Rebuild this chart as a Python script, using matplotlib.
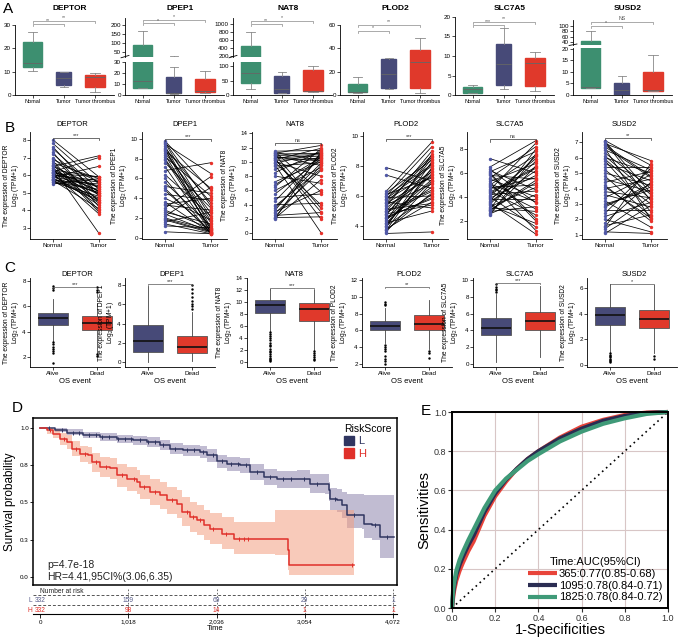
import numpy as np
import matplotlib
matplotlib.use("Agg")
import matplotlib.pyplot as plt
from matplotlib.patches import Patch
from matplotlib.transforms import blended_transform_factory

plt.rcParams["font.family"] = ["Liberation Sans", "DejaVu Sans"]
plt.rcParams["mathtext.default"] = "regular"

# ---------------- données ----------------
genes = ["DEPTOR", "DPEP1", "NAT8", "PLOD2", "SLC7A5", "SUSD2"]

# A : (min, q1, mediane, q3, max) par groupe
A_normal = [(10.4, 12.1, 13.9, 22.6, 26.9), (6, 6, 12.7, 88, 165), (22, 42, 75, 450, 800),
            (2, 2.3, 2.3, 9.1, 15.7), (0.6, 0.6, 1.5, 2.0, 2.6), (2.9, 2.9, 3.4, 42, 83)]
A_tumor = [(3.6, 4.3, 7.1, 9.7, 10), (0.6, 1.5, 2, 16, 25.7), (6, 8, 22, 66, 80),
           (4.9, 5.7, 18, 30.6, 31.4), (1.5, 2.6, 7.9, 13.2, 17.1), (0, 0, 2.2, 5.4, 8.3)]
A_thromb = [(1.3, 3.3, 7.6, 8.6, 9.3), (2, 2.7, 4, 15, 22), (11, 13, 15, 87, 100),
            (1.4, 6.3, 28.6, 39, 48.6), (1.1, 2.4, 8.1, 9.4, 10.9), (1.9, 1.9, 2.2, 9.8, 17.5)]
A_groups = ["Nomal", "Tumor", "Tumor thrombus"]
A_sig_nt = ["**", "*", "**", "*", "***", "*"]
A_sig_nth = ["**", "*", "*", "**", "**", "NS"]
A_lower_top = [30, 30, 114, 60, 20, 20.4]
A_lower_ticks = [[0, 10, 20, 30], [0, 10, 20, 30], [0, 50, 100], [0, 20, 40, 60],
                 [0, 5, 10, 15, 20], [0, 5, 10, 15, 20]]
A_upper_lim = [None, (20, 240), (173, 1160), None, None, (28.75, 122.5)]
A_upper_ticks = [None, [50, 100, 150, 200], [200, 400, 600, 800, 1000], None, None, [40, 60, 80, 100]]

# B : valeurs appariées normal / tumeur
B_normal = [
    [8.0, 7.8, 7.6, 7.5, 7.3, 7.2, 7.0, 6.9, 6.8, 6.7, 6.6, 6.5, 6.5, 6.4, 6.3, 6.3, 6.2, 6.2, 6.1, 6.1,
     6.0, 6.0, 5.9, 5.9, 5.8, 5.8, 5.7, 5.7, 5.6, 5.6, 5.5, 6.4, 6.0, 5.8, 6.2, 6.6, 5.9, 6.1, 5.7, 6.3],
    [9.8, 9.6, 9.5, 9.3, 9.1, 9.0, 8.8, 8.6, 8.4, 8.2, 8.0, 7.6, 7.2, 6.8, 6.4, 6.0, 5.6, 5.2, 4.8, 4.4,
     4.0, 3.6, 3.3, 3.0, 2.8, 2.6, 2.4, 2.2, 2.0, 1.8, 1.6, 1.4, 1.2, 0.6, 9.7, 8.9, 7.9, 5.0, 3.4, 1.9],
    [11.5, 11.3, 11.2, 11.0, 10.9, 10.8, 10.6, 10.5, 10.3, 10.2, 10.0, 9.8, 9.6, 9.4, 9.0, 8.5, 8.0, 7.2, 6.5, 6.0,
     5.5, 5.0, 4.5, 4.0, 3.5, 3.2, 3.0, 2.8, 2.5, 2.3, 2.1, 2.0, 11.4, 10.7, 9.9, 2.2, 3.8, 6.8, 10.4, 11.1],
    [7.9, 7.4, 6.3, 6.2, 6.1, 6.0, 5.9, 5.8, 5.7, 5.6, 5.5, 5.4, 5.3, 5.2, 5.1, 5.0, 4.9, 4.8, 4.7, 4.6,
     4.5, 4.4, 4.3, 4.2, 4.1, 4.0, 3.9, 3.8, 3.7, 3.6, 3.5, 6.0, 5.5, 5.0, 4.5, 4.0, 3.7, 5.8, 4.8, 4.2],
    [7.2, 6.5, 6.3, 6.1, 6.0, 5.8, 5.6, 5.5, 5.3, 5.2, 5.0, 4.9, 4.8, 4.6, 4.5, 4.4, 4.2, 4.1, 4.0, 3.9,
     3.8, 3.6, 3.5, 3.4, 3.2, 3.1, 3.0, 2.9, 2.8, 2.7, 2.6, 2.5, 5.9, 4.7, 3.7, 5.1, 4.3, 3.3, 6.2, 2.9],
    [7.1, 7.0, 6.9, 6.8, 6.6, 6.5, 6.3, 6.1, 6.0, 5.8, 5.6, 5.4, 5.2, 5.0, 4.8, 4.6, 4.4, 4.2, 4.0, 3.8,
     3.6, 3.4, 3.2, 3.0, 2.8, 2.6, 2.4, 2.2, 2.0, 1.8, 1.6, 1.4, 1.2, 1.1, 6.7, 5.9, 4.1, 2.9, 1.5, 7.05],
]
B_tumor = [
    [5.9, 5.5, 4.8, 5.2, 4.2, 5.0, 4.5, 5.6, 4.0, 5.8, 3.9, 5.3, 7.1, 4.6, 5.9, 4.4, 5.1, 7.0, 4.9, 3.8,
     5.7, 4.3, 5.4, 6.5, 4.7, 5.0, 5.5, 4.1, 5.2, 4.8, 5.8, 2.7, 5.6, 4.5, 5.3, 4.9, 5.0, 5.9, 4.6, 5.1],
    [4.8, 2.0, 6.5, 1.0, 3.5, 0.5, 5.0, 2.5, 0.8, 4.2, 1.5, 3.0, 0.6, 7.6, 2.2, 0.4, 1.2, 4.5, 0.7, 3.8,
     1.8, 0.5, 2.8, 6.2, 0.9, 1.4, 0.6, 5.1, 0.8, 0.5, 2.6, 0.4, 1.0, 0.4, 3.2, 1.7, 0.9, 0.5, 4.0, 0.6],
    [11.6, 10.2, 12.3, 3.5, 11.0, 9.5, 10.8, 2.0, 11.9, 10.5, 8.0, 11.3, 0.1, 9.9, 10.7, 11.5, 7.0, 10.0, 11.8, 9.2,
     10.4, 5.5, 11.1, 4.2, 9.8, 10.9, 6.0, 8.8, 2.9, 9.5, 7.5, 11.4, 5.8, 10.1, 4.0, 2.3, 9.0, 10.6, 3.0, 11.2],
    [7.0, 6.5, 9.6, 8.4, 7.2, 9.3, 6.0, 8.0, 7.6, 5.2, 8.6, 6.8, 9.0, 7.4, 5.5, 8.2, 6.3, 7.8, 8.5, 5.8,
     7.1, 6.6, 8.8, 5.0, 7.5, 6.1, 8.3, 5.6, 7.9, 6.9, 3.6, 8.1, 7.3, 6.4, 5.9, 7.7, 6.2, 8.7, 5.4, 7.0],
    [6.0, 8.7, 3.5, 7.8, 2.2, 5.5, 8.2, 4.0, 6.8, 1.2, 7.5, 3.0, 5.0, 8.5, 2.5, 6.5, 4.5, 7.2, 1.5, 5.8,
     3.8, 6.2, 0.9, 7.0, 4.8, 2.8, 8.0, 5.2, 3.2, 6.6, 4.2, 7.6, 2.0, 5.6, 7.4, 3.6, 6.4, 1.8, 4.6, 5.4],
    [5.5, 3.2, 5.8, 4.8, 2.0, 5.2, 4.0, 3.6, 5.0, 2.5, 4.5, 5.4, 3.0, 4.2, 2.2, 3.8, 5.1, 1.9, 4.6, 3.4,
     2.8, 4.9, 1.5, 3.9, 4.3, 2.6, 5.3, 3.1, 1.2, 4.4, 2.3, 3.5, 1.1, 2.9, 4.7, 3.3, 2.1, 4.1, 5.6, 3.7],
]
B_ylim = [(2.375, 8.45), (-0.13, 10.71), (-0.8, 14.18), (3.13, 10.27), (0.5, 9.42), (0.74, 7.65)]
B_ticks = [[3, 4, 5, 6, 7, 8], [0, 2, 4, 6, 8, 10], [0, 2, 4, 6, 8, 10, 12, 14], [4, 6, 8, 10],
           [2, 4, 6, 8], [1, 2, 3, 4, 5, 6, 7]]
B_sig = ["***", "***", "ns", "***", "ns", "**"]
B_sig_y = [8.11, 10.0, 12.7, 9.8, 8.8, 7.25]

# C : statistiques des boîtes Alive / Dead
C_alive = [(3.3, 4.5, 5.05, 5.45, 6.6), (0.0, 1.05, 2.2, 3.8, 7.9), (5.2, 8.2, 9.5, 10.3, 12.1),
           (4.5, 6.0, 6.55, 7.1, 8.7), (0.2, 3.4, 4.3, 5.5, 8.4), (1.0, 3.1, 3.9, 4.5, 6.3)]
C_dead = [(2.3, 4.1, 4.65, 5.25, 6.3), (0.1, 0.9, 1.6, 2.65, 5.2), (2.0, 6.8, 8.8, 9.8, 12.0),
          (3.8, 6.1, 6.8, 7.8, 9.6), (0.8, 4.0, 5.1, 6.2, 9.3), (0.9, 2.9, 3.6, 4.3, 6.2)]
C_alive_out = [[7.6, 7.45, 7.3, 3.2, 3.0, 2.8, 2.6, 2.45, 2.3, 1.5], [],
               [5.0, 4.7, 4.4, 4.0, 3.6, 3.2, 2.9, 2.6, 2.2, 1.9, 1.6, 1.3, 1.0, 0.7, 0.5, 0.3, 0.15],
               [9.0, 9.2, 9.35, 4.3, 4.0, 3.8, 3.5, 3.0, 2.6, 2.3, 2.0],
               [8.6, 8.8, 9.0, 9.2, 9.5], [0.9, 0.8, 0.7, 0.6, 0.5, 0.4, 0.3, 0.2]]
C_dead_out = [[7.5, 7.3, 7.1, 2.2, 2.1], [5.5, 5.8, 6.0, 6.3, 6.8, 7.2, 7.6, 8.0],
              [1.9, 1.5, 1.1, 0.8, 0.5, 0.3], [3.5, 3.3, 2.7], [], [0.7, 0.5]]
C_ylim = [(1.21, 8.24), (-0.52, 8.73), (-0.83, 14), (1.64, 12.26), (-0.36, 10.26), (-0.16, 6.78)]
C_ticks = [[2, 4, 6, 8], [0, 2, 4, 6, 8], [0, 2, 4, 6, 8, 10, 12, 14], [2, 4, 6, 8, 10, 12],
           [0, 2, 4, 6, 8, 10], [0, 2, 4, 6]]
C_sig = ["***", "***", "***", "**", "***", "*"]
C_sig_y = [7.55, 8.1, 12.3, 11.2, 9.65, 6.3]

# D : Kaplan-Meier
L_time = [0, 173, 308, 500, 693, 885, 1078, 1232, 1386, 1501, 1655, 1848, 1925, 2040, 2155, 2309,
          2425, 2579, 2733, 2964, 3118, 3291, 3329, 3349, 3426, 3483, 3541, 3714, 3733, 3830, 3926, 4080]
L_surv = [1.0, 0.984, 0.969, 0.951, 0.94, 0.928, 0.917, 0.906, 0.884, 0.861, 0.85, 0.839, 0.817, 0.776,
          0.761, 0.749, 0.705, 0.671, 0.655, 0.655, 0.626, 0.626, 0.582, 0.526, 0.515, 0.481, 0.418,
          0.418, 0.358, 0.347, 0.268, 0.268]
L_lo = [1.0, 0.97, 0.95, 0.93, 0.915, 0.9, 0.888, 0.875, 0.85, 0.826, 0.812, 0.8, 0.775, 0.73, 0.713,
        0.7, 0.652, 0.614, 0.596, 0.594, 0.562, 0.56, 0.51, 0.448, 0.435, 0.398, 0.33, 0.325, 0.26,
        0.248, 0.13, 0.12]
L_hi = [1.0, 1.0, 0.99, 0.975, 0.965, 0.955, 0.946, 0.937, 0.918, 0.897, 0.888, 0.878, 0.858, 0.82,
        0.808, 0.798, 0.757, 0.727, 0.714, 0.716, 0.69, 0.692, 0.64, 0.6, 0.59, 0.57, 0.56, 0.56, 0.55,
        0.55, 0.55, 0.55]
H_time = [0, 77, 154, 231, 308, 366, 462, 558, 597, 693, 808, 885, 1001, 1116, 1155, 1270, 1386, 1463,
          1578, 1636, 1732, 1809, 1886, 1963, 2098, 2232, 2714, 2856, 2868, 3618]
H_surv = [1.0, 0.984, 0.962, 0.928, 0.906, 0.861, 0.828, 0.817, 0.772, 0.738, 0.732, 0.682, 0.66, 0.638,
          0.604, 0.57, 0.548, 0.515, 0.492, 0.436, 0.403, 0.38, 0.347, 0.324, 0.291, 0.257, 0.257,
          0.179, 0.083, 0.083]
H_lo = [1.0, 0.96, 0.93, 0.885, 0.86, 0.81, 0.77, 0.755, 0.705, 0.67, 0.66, 0.605, 0.58, 0.555, 0.52,
        0.48, 0.455, 0.42, 0.395, 0.34, 0.305, 0.28, 0.245, 0.22, 0.19, 0.155, 0.15, 0.05, 0.01, 0.01]
H_hi = [1.0, 1.0, 0.99, 0.965, 0.95, 0.91, 0.88, 0.875, 0.835, 0.805, 0.8, 0.755, 0.735, 0.715, 0.685,
        0.655, 0.635, 0.605, 0.585, 0.535, 0.5, 0.48, 0.45, 0.43, 0.4, 0.37, 0.45, 0.45, 0.45, 0.45]
L_censor = [100, 250, 380, 450, 560, 640, 720, 800, 900, 980, 1050, 1150, 1250, 1330, 1420, 1560, 1700,
            1780, 1880, 1990, 2100, 2200, 2280, 2380, 2500, 2650, 2800, 2900, 3050, 3200, 3400, 3620,
            3860, 4000]
H_censor = [120, 280, 420, 520, 650, 760, 950, 1080, 1200, 1330, 1520, 1700, 1760, 1850, 2000, 2150,
            2300, 2350, 2400, 3600]
risk_times = [0, 1018, 2036, 3054, 4072]
risk_labels = ["0", "1,018", "2,036", "3,054", "4,072"]
risk_L = ["332", "159", "69", "29", "1"]
risk_H = ["332", "98", "14", "1", "1"]

# E : courbes ROC
fpr = [0, 0.005, 0.01, 0.02, 0.035, 0.05, 0.075, 0.1, 0.15, 0.2, 0.25, 0.3, 0.35, 0.4, 0.5, 0.6,
       0.7, 0.8, 0.9, 1.0]
tpr_365 = [0, 0.05, 0.09, 0.14, 0.19, 0.23, 0.29, 0.34, 0.47, 0.57, 0.645, 0.71, 0.76, 0.80, 0.87,
           0.925, 0.96, 0.985, 0.997, 1.0]
tpr_1095 = [0, 0.07, 0.11, 0.17, 0.22, 0.26, 0.32, 0.37, 0.49, 0.585, 0.655, 0.71, 0.76, 0.80, 0.865,
            0.915, 0.955, 0.98, 0.995, 1.0]
tpr_1825 = [0, 0.09, 0.13, 0.19, 0.245, 0.285, 0.345, 0.40, 0.51, 0.60, 0.66, 0.705, 0.75, 0.785,
            0.85, 0.90, 0.94, 0.968, 0.99, 1.0]
roc_labels = ["365:0.77(0.85-0.68)", "1095:0.78(0.84-0.71)", "1825:0.78(0.84-0.72)"]

GREEN = "#3d8f70"
NAVY = "#474a78"
RED = "#e0392b"
PT_BLUE = "#5058a6"

W, H = 685, 638
fig = plt.figure(figsize=(W / 100, H / 100), dpi=100)


def px_ax(x0, y0, x1, y1):
    return fig.add_axes([x0 / W, 1 - y1 / H, (x1 - x0) / W, (y1 - y0) / H])


def fy(ypx):
    return 1 - ypx / H


def stat(t, fl=()):
    return {"whislo": t[0], "q1": t[1], "med": t[2], "q3": t[3], "whishi": t[4], "fliers": list(fl)}


def style(ax, size=4.5):
    for s in ["top", "right"]:
        ax.spines[s].set_visible(False)
    for s in ["left", "bottom"]:
        ax.spines[s].set_linewidth(0.6)
    ax.tick_params(length=2, width=0.5, labelsize=size, pad=1)


# ---------------- A ----------------
A_left = [15, 125, 233, 340, 455, 573]
A_top_px = [25, 62, 62, 25, 17, 48]
A_upper_px = [None, (18, 57), (18, 57), None, None, (20, 45)]
A_br_px = [(24, 20.7), (23.3, 20), (24, 20.7), (30.7, 25), (25, 21.7), (26, 21.7)]

for i, g in enumerate(genes):
    stats = [stat(A_normal[i]), stat(A_tumor[i]), stat(A_thromb[i])]
    x0 = A_left[i]
    axes = [px_ax(x0, A_top_px[i], x0 + 99, 95)]
    if A_upper_lim[i] is not None:
        axes.append(px_ax(x0, A_upper_px[i][0], x0 + 99, A_upper_px[i][1]))
    for k, ax in enumerate(axes):
        bp = ax.bxp(stats, positions=[1, 2, 3], widths=[0.62, 0.48, 0.62], patch_artist=True,
                    showfliers=False,
                    whiskerprops=dict(color="#888888", lw=0.6),
                    capprops=dict(color="#888888", lw=0.6),
                    medianprops=dict(color="#666666", lw=0.6))
        for patch, c in zip(bp["boxes"], [GREEN, NAVY, RED]):
            patch.set_facecolor(c)
            patch.set_edgecolor(c)
        ax.set_xlim(0.44, 3.6)
        style(ax)
        ax.patch.set_alpha(0)
        if k == 0:
            ax.set_ylim(0, A_lower_top[i])
            ax.set_yticks(A_lower_ticks[i])
            ax.set_xticks([1, 2, 3])
            ax.set_xticklabels(A_groups, fontsize=4.0)
        else:
            ax.set_ylim(*A_upper_lim[i])
            ax.set_yticks(A_upper_ticks[i])
            ax.spines["bottom"].set_visible(False)
            ax.set_xticks([])
            ax.plot([-0.04, 0.04], [-0.02, 0.04], transform=ax.transAxes, color="k", lw=0.6,
                    clip_on=False)
    ax0 = axes[0]
    tr = blended_transform_factory(ax0.transData, fig.transFigure)
    for (a, b), ypx, lab in [((1, 2), A_br_px[i][0], A_sig_nt[i]), ((1, 3), A_br_px[i][1], A_sig_nth[i])]:
        y = fy(ypx)
        ax0.plot([a, a, b, b], [y - 0.003, y, y, y - 0.003], transform=tr, color="#888888", lw=0.5,
                 clip_on=False)
        ax0.text((a + b) / 2, y + 0.001, lab, transform=tr, ha="center", va="bottom", fontsize=3.8,
                 color="#555555")
    fig.text((x0 + 55) / W, fy(9), g, ha="center", va="center", fontsize=6, fontweight="bold")

# ---------------- B ----------------
B_left = [30, 142, 252, 363, 467, 582]
for i, g in enumerate(genes):
    ax = px_ax(B_left[i], 132, B_left[i] + 85, 239)
    for n, t in zip(B_normal[i], B_tumor[i]):
        ax.plot([1, 2], [n, t], color="black", lw=0.55, zorder=1)
    ax.scatter(np.ones(len(B_normal[i])), B_normal[i], s=6, color=PT_BLUE, zorder=2, lw=0)
    ax.scatter(np.full(len(B_tumor[i]), 2), B_tumor[i], s=6, color="#e8322b", zorder=2, lw=0)
    ax.set_xlim(0.5, 2.35)
    ax.set_ylim(*B_ylim[i])
    ax.set_yticks(B_ticks[i])
    ax.set_xticks([1, 2])
    ax.set_xticklabels(["Normal", "Tumor"], fontsize=4.8)
    style(ax)
    ax.set_ylabel("The expression of %s\nLog$_2$ (TPM+1)" % g, fontsize=4.8, labelpad=1, linespacing=1.0)
    y = B_sig_y[i]
    d = (B_ylim[i][1] - B_ylim[i][0]) * 0.02
    ax.plot([1, 1, 2, 2], [y - d, y, y, y - d], color="#333333", lw=0.5, clip_on=False)
    ax.text(1.5, y, B_sig[i], ha="center", va="bottom", fontsize=4, color="#333333")
    ax.set_title(g, fontsize=5.5, pad=4)

# ---------------- C ----------------
C_left = [30, 125, 247, 362, 473, 587]
for i, g in enumerate(genes):
    ax = px_ax(C_left[i], 278, C_left[i] + 90, 367)
    stats = [stat(C_alive[i], C_alive_out[i]), stat(C_dead[i], C_dead_out[i])]
    bp = ax.bxp(stats, positions=[1, 2], widths=0.68, patch_artist=True, showcaps=False,
                boxprops=dict(edgecolor="#555555", lw=0.6),
                whiskerprops=dict(color="#444444", lw=0.6),
                medianprops=dict(color="#111111", lw=1.2),
                flierprops=dict(marker=".", markersize=1.5, markerfacecolor="k", markeredgecolor="k"))
    for patch, c in zip(bp["boxes"], [NAVY, RED]):
        patch.set_facecolor(c)
    ax.set_xlim(0.48, 2.52)
    ax.set_ylim(*C_ylim[i])
    ax.set_yticks(C_ticks[i])
    ax.set_xticks([1, 2])
    ax.set_xticklabels(["Alive", "Dead"], fontsize=4.8)
    style(ax)
    ax.set_xlabel("OS event", fontsize=5.5, labelpad=1)
    ax.set_ylabel("The expression of %s\nLog$_2$ (TPM+1)" % g, fontsize=4.8, labelpad=1, linespacing=1.0)
    y = C_sig_y[i]
    d = (C_ylim[i][1] - C_ylim[i][0]) * 0.015
    ax.plot([1, 1, 2, 2], [y - d, y, y, y - d], color="#555555", lw=0.5, clip_on=False)
    ax.text(1.5, y, C_sig[i], ha="center", va="bottom", fontsize=4, color="#333333")
    fig.text((C_left[i] + 47) / W, fy(275), g, ha="center", va="center", fontsize=5.5)

# ---------------- D ----------------
axD = px_ax(33, 418, 397, 585)
axD.fill_between(L_time, L_lo, L_hi, step="post", color="#9890b4", alpha=0.6, lw=0)
axD.fill_between(H_time, H_lo, H_hi, step="post", color="#f3a082", alpha=0.55, lw=0)
axD.step(L_time, L_surv, where="post", color="#2f3560", lw=1.1)
axD.step(H_time, H_surv, where="post", color="#e0302a", lw=1.1)
for times, surv, cens, col in [(L_time, L_surv, L_censor, "#2f3560"), (H_time, H_surv, H_censor, "#e0302a")]:
    idx = np.searchsorted(times, cens, side="right") - 1
    axD.plot(cens, np.array(surv)[idx], ls="none", marker="|", ms=3, mew=0.7, color=col)
axD.set_xlim(-81, 4118)
axD.set_ylim(-0.054, 1.067)
axD.set_xticks([])
axD.set_yticks([0, 0.25, 0.5, 0.75, 1.0])
axD.set_yticklabels(["0.0", "0.3", "0.5", "0.8", "1.0"])
axD.tick_params(axis="y", length=2, width=0.6, labelsize=4.5, pad=1)
for s in axD.spines.values():
    s.set_linewidth(1.1)
axD.set_ylabel("Survival probability", fontsize=8.5, labelpad=3)
axD.text(80, 0.08, "p=4.7e-18", fontsize=7.5, va="center", color="#222222")
axD.text(80, 0.0, "HR=4.41,95CI%(3.06,6.35)", fontsize=7.5, va="center", color="#222222")
leg = axD.legend([Patch(color="#2f3560"), Patch(color="#e0302a")], ["L", "H"], title="RiskScore",
                 loc="upper right", frameon=False, fontsize=8, title_fontsize=7.5, handlelength=0.9,
                 handleheight=0.9, handletextpad=0.4, borderaxespad=0.1, labelspacing=0.2)
leg._legend_box.align = "left"
for txt, c in zip(leg.get_texts(), ["#2f3560", "#e0302a"]):
    txt.set_color(c)

axR = px_ax(33, 587, 397, 614)
axR.set_xlim(-81, 4118)
axR.set_ylim(27, 0)
for s in ["top", "right", "left"]:
    axR.spines[s].set_visible(False)
axR.spines["bottom"].set_linewidth(0.8)
axR.set_yticks([])
axR.set_xticks(risk_times)
axR.set_xticklabels(risk_labels)
axR.tick_params(axis="x", length=3, width=0.6, labelsize=4.5, pad=1)
axR.set_xlabel("Time", fontsize=5.5, labelpad=0)
for yy in [8, 18]:
    axR.axhline(yy, color="#555555", lw=0.7, ls=(0, (3, 2)))
for t in risk_times[1:]:
    axR.plot([t, t], [2, 27], color="#555555", lw=0.6, ls=(0, (2, 2)))
axR.text(0, 4.5, "Number at risk", fontsize=4.8, va="center", ha="left", color="#222222")
for t, a, b in zip(risk_times, risk_L, risk_H):
    axR.text(t, 13.5, a, fontsize=4.8, ha="center", va="center", color="#5a5f8c")
    axR.text(t, 23.5, b, fontsize=4.8, ha="center", va="center", color="#e0302a")
axR.text(-95, 13.5, "L", fontsize=4.8, ha="right", va="center", color="#5a5f8c", clip_on=False)
axR.text(-95, 23.5, "H", fontsize=4.8, ha="right", va="center", color="#e0302a", clip_on=False)

# ---------------- E ----------------
axE = px_ax(452, 412, 668, 608)
axE.grid(True, color="#d8c6c6", lw=0.8)
axE.set_axisbelow(True)
axE.plot([0, 1], [0, 1], color="k", lw=1.2, ls=(0, (1, 2.2)))
for tp, c, lab in [(tpr_365, "#e8443a", roc_labels[0]), (tpr_1095, "#2b2d52", roc_labels[1]),
                   (tpr_1825, "#3f9a78", roc_labels[2])]:
    axE.plot(fpr, tp, color=c, lw=3, label=lab, clip_on=False, solid_capstyle="butt")
axE.set_xlim(0, 1)
axE.set_ylim(0, 1)
ticks = [0, 0.2, 0.4, 0.6, 0.8, 1.0]
axE.set_xticks(ticks)
axE.set_yticks(ticks)
axE.set_xticklabels(["0.0", "0.2", "0.4", "0.6", "0.8", "1.0"])
axE.set_yticklabels(["0.0", "0.2", "0.4", "0.6", "0.8", "1.0"])
axE.tick_params(length=3, width=0.8, labelsize=6.5, pad=1, colors="#333333")
for s in axE.spines.values():
    s.set_linewidth(1.4)
axE.set_xlabel("1-Specificities", fontsize=10.5, labelpad=0)
axE.set_ylabel("Sensitivities", fontsize=10.5, labelpad=2)
axE.legend(title="Time:AUC(95%CI)", loc="lower right", frameon=False, fontsize=8, title_fontsize=8,
           handlelength=2.6, handletextpad=0.2, borderaxespad=0.1, labelspacing=0.15)

# lettres des panneaux
for lab, x, y in [("A", 8, 9), ("B", 10, 128), ("C", 10, 268), ("D", 17, 408), ("E", 426, 411)]:
    fig.text(x / W, fy(y), lab, fontsize=11, ha="center", va="center")

fig.savefig("out.png", dpi=100)
plt.close(fig)
